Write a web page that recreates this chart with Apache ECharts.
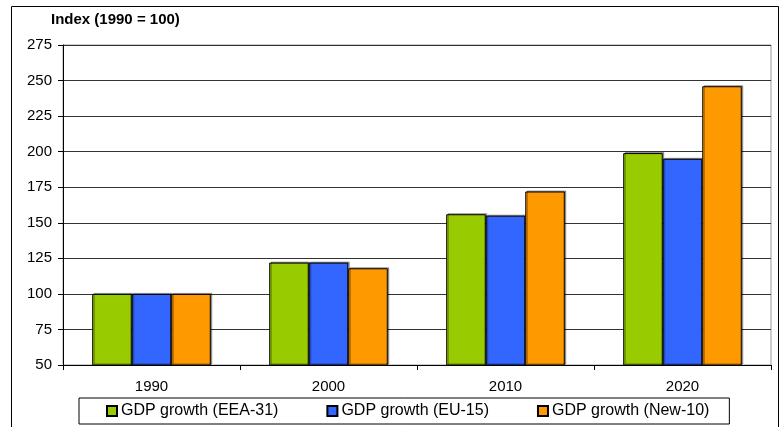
<!DOCTYPE html>
<html>
<head>
<meta charset="utf-8">
<script src="https://cdn.jsdelivr.net/npm/echarts@6/dist/echarts.min.js"></script>
<style>
  html, body { margin: 0; padding: 0; background: #fff; }
  #chart { width: 781px; height: 427px; }
</style>
</head>
<body>
<div id="chart"></div>
<script>
// GDP growth index by region, 1990 = 100
var years = ['1990', '2000', '2010', '2020'];
var seriesNames = ['GDP growth (EEA-31)', 'GDP growth (EU-15)', 'GDP growth (New-10)'];
var eea31 = [100, 122, 156, 199];
var eu15 = [100, 122, 155, 195];
var new10 = [100, 118, 172, 246];
var colors = ['#99CC00', '#3366FF', '#FF9900'];
var yMin = 50, yMax = 275, yStep = 25;

var FONT = '"Liberation Sans", Arial, sans-serif';

function barSeries(name, data, color) {
  return {
    name: name,
    type: 'bar',
    data: data,
    barGap: '0%',
    barCategoryGap: '33%',
    itemStyle: {
      color: color,
      borderColor: '#000',
      borderWidth: 1,
      shadowColor: 'rgba(0,0,0,0.35)',
      shadowOffsetX: 1.5,
      shadowOffsetY: -1,
      shadowBlur: 0
    }
  };
}

var chart = echarts.init(document.getElementById('chart'), null, { renderer: 'canvas' });
chart.setOption({
  animation: false,
  backgroundColor: '#fff',
  textStyle: { fontFamily: FONT },
  graphic: [
    {
      type: 'rect',
      shape: { x: 11.5, y: 6.5, width: 767, height: 440 },
      style: { fill: 'none', stroke: '#000', lineWidth: 1 },
      z: -1
    },
    {
      type: 'text',
      left: 51,
      top: 12,
      style: { text: 'Index (1990 = 100)', font: 'bold 15px ' + FONT, fill: '#000' }
    }
  ],
  grid: {
    left: 63, top: 45, right: 10, bottom: 62,
    show: true, borderColor: '#9a9a9a', borderWidth: 1,
    containLabel: false
  },
  legend: {
    left: 79, top: 398,
    padding: [5, 20, 5, 27],
    borderColor: '#000', borderWidth: 1,
    itemWidth: 10, itemHeight: 10, itemGap: 48,
    icon: 'rect',
    textStyle: { fontSize: 16, lineHeight: 16, color: '#000', fontFamily: FONT, padding: [0, 0, 0, -1] },
    data: seriesNames
  },
  xAxis: {
    type: 'category',
    data: years,
    boundaryGap: true,
    axisLine: { lineStyle: { color: '#000', width: 1 } },
    axisTick: { show: true, length: 5, alignWithLabel: false, lineStyle: { color: '#000' } },
    axisLabel: { color: '#000', fontSize: 15, margin: 14, fontFamily: FONT },
    splitLine: { show: false }
  },
  yAxis: {
    type: 'value',
    min: yMin, max: yMax, interval: yStep,
    axisLine: { show: true, lineStyle: { color: '#000', width: 1 } },
    axisTick: { show: true, length: 5, lineStyle: { color: '#000' } },
    axisLabel: { color: '#000', fontSize: 15, margin: 11, fontFamily: FONT },
    splitLine: { show: true, lineStyle: { color: '#333', width: 1 } }
  },
  series: [
    barSeries(seriesNames[0], eea31, colors[0]),
    barSeries(seriesNames[1], eu15, colors[1]),
    barSeries(seriesNames[2], new10, colors[2])
  ]
});
</script>
</body>
</html>
